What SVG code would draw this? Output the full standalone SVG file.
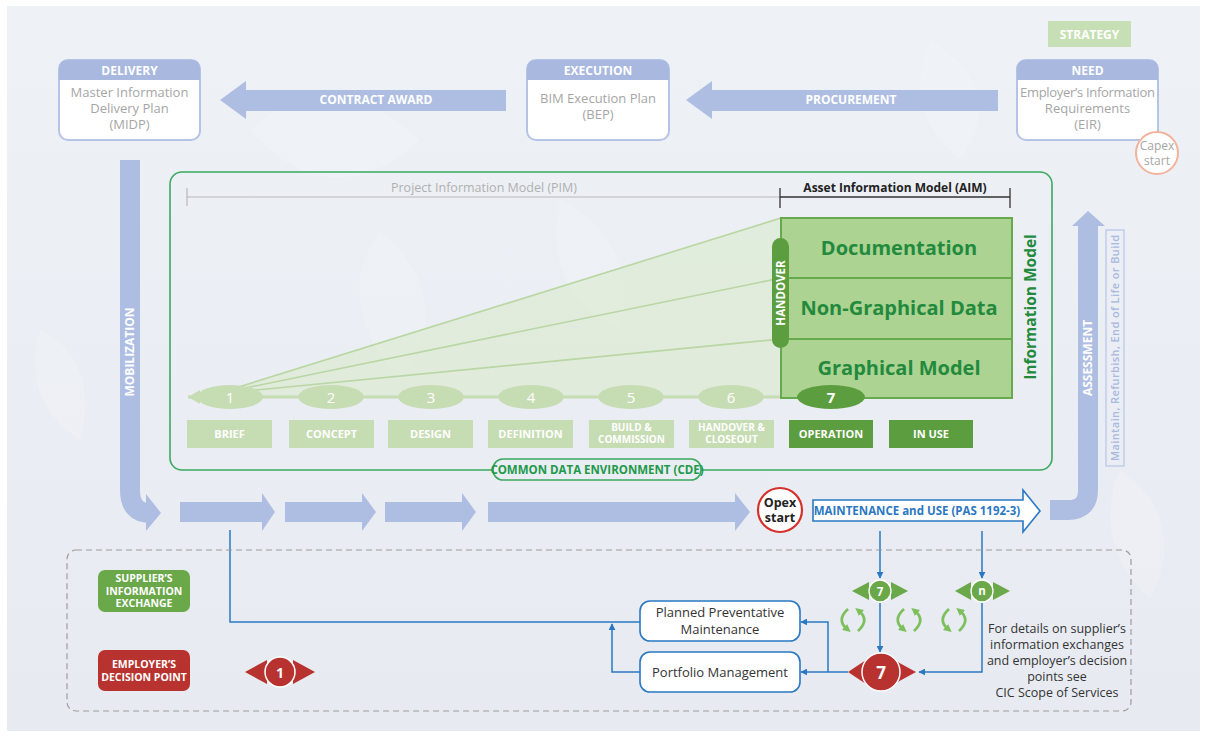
<svg xmlns="http://www.w3.org/2000/svg" width="1207" height="736" viewBox="0 0 1207 736">
  <defs>
    <linearGradient id="bg" x1="0" y1="0" x2="0" y2="1">
      <stop offset="0" stop-color="#eef1f6"/>
      <stop offset="1" stop-color="#e7ebf1"/>
    </linearGradient>
    <marker id="ah" viewBox="0 0 10 10" refX="9" refY="5" markerWidth="7" markerHeight="7" orient="auto" markerUnits="userSpaceOnUse">
      <path d="M0,0 L10,5 L0,10 Z" fill="#2a78c2"/>
    </marker>
    <marker id="cyc" viewBox="0 0 10 10" refX="4" refY="5" markerWidth="8" markerHeight="8" orient="auto" markerUnits="userSpaceOnUse">
      <path d="M0,0 L10,5 L0,10 Z" fill="#7dbf5c"/>
    </marker>
    <!-- pair of curved arrows used for the repeating maintenance cycle -->
    <g id="cycle">
      <path d="M-5,-11 Q-17,0 -6,9" fill="none" stroke="#7dbf5c" stroke-width="2.8" marker-end="url(#cyc)"/>
      <path d="M5,11 Q17,0 6,-9" fill="none" stroke="#7dbf5c" stroke-width="2.8" marker-end="url(#cyc)"/>
    </g>
    <style>
      text { font-family: "Open Sans", "Noto Sans", "Liberation Sans", sans-serif; }
      .hdr { fill: #a8b8df; }
      .box { fill: #ffffff; stroke: #b5c3e6; stroke-width: 2; }
      .hdrtx { fill: #ffffff; font-weight: 700; font-size: 12px; text-anchor: middle; }
      .bodytx { fill: #a6a6a6; font-size: 13px; text-anchor: middle; }
      .flow { fill: #aebde2; }
      .flowtx { fill: #ffffff; font-weight: 700; font-size: 12px; text-anchor: middle; }
      .stage { fill: #c6dcb3; }
      .stage-on { fill: #5c9e3f; }
      .stagetx { fill: #ffffff; font-weight: 700; font-size: 11px; text-anchor: middle; }
      .stagetx2 { fill: #ffffff; font-weight: 700; font-size: 10px; text-anchor: middle; }
      .num { fill: #ffffff; font-size: 15px; text-anchor: middle; }
      .aim { fill: #acd392; stroke: #67a94d; stroke-width: 2; }
      .aimtx { fill: #238a3d; font-weight: 700; font-size: 20px; text-anchor: middle; }
      .fan { stroke: #b9d6a3; stroke-width: 1.6; fill: none; }
      .conn { stroke: #2a78c2; stroke-width: 1.5; fill: none; }
      .pill { fill: #ffffff; stroke: #2a78c2; stroke-width: 1.6; }
      .pilltx { fill: #333333; font-size: 13px; text-anchor: middle; }
      .red { fill: #b8332f; }
      .green { fill: #6aa84a; }
      .keytx { fill: #ffffff; font-size: 10.5px; font-weight: 700; text-anchor: middle; }
      .note { fill: #333333; font-size: 12.5px; text-anchor: middle; }
    </style>
  </defs>

  <!-- page background -->
  <rect width="1207" height="736" fill="#ffffff"/>
  <rect x="7" y="6" width="1193" height="725" fill="url(#bg)"/>
  <g fill="#ffffff" opacity="0.14">
    <path d="M250,130 Q330,60 420,140 Q330,220 250,130 Z"/>
    <path d="M380,230 Q460,300 400,380 Q330,300 380,230 Z"/>
    <path d="M560,200 Q640,240 620,330 Q540,290 560,200 Z"/>
    <path d="M930,40 Q1010,90 960,160 Q900,110 930,40 Z"/>
    <path d="M40,330 Q100,360 80,440 Q20,400 40,330 Z"/>
    <path d="M1120,470 Q1190,520 1150,600 Q1090,540 1120,470 Z"/>
  </g>

  <!-- flow arrows (process route) -->
  <g id="connectors">
    <!-- top row -->
    <polygon class="flow" points="506,90 246,90 246,81 220,100 246,119 246,111 506,111"/>
    <text class="flowtx" x="376" y="104">CONTRACT AWARD</text>
    <polygon class="flow" points="998,90 712,90 712,81 686,100 712,119 712,111 998,111"/>
    <text class="flowtx" x="851" y="104">PROCUREMENT</text>

    <!-- mobilization -->
    <path d="M130,160 V490 Q130,513 150,513" fill="none" stroke="#aebde2" stroke-width="20"/>
    <polygon class="flow" points="146,494 161,513 146,531"/>
    <text class="flowtx" font-size="11" transform="translate(134,352) rotate(-90)" text-anchor="middle">MOBILIZATION</text>

    <!-- stage arrows -->
    <polygon class="flow" points="180,502 262,502 262,493 275,512 262,531 262,522 180,522"/>
    <polygon class="flow" points="285,502 362,502 362,493 376,512 362,531 362,522 285,522"/>
    <polygon class="flow" points="385,502 462,502 462,493 476,512 462,531 462,522 385,522"/>
    <polygon class="flow" points="488,502 735,502 735,493 750,512 735,531 735,522 488,522"/>

    <!-- maintenance and use -->
    <polygon points="813,500 1023,500 1023,490 1040,511 1023,532 1023,521 813,521" fill="#ffffff" stroke="#2a78c2" stroke-width="1.6"/>
    <text x="917" y="515" fill="#2a78c2" font-size="11.5" font-weight="700" text-anchor="middle">MAINTENANCE and USE (PAS 1192-3)</text>

    <!-- assessment -->
    <path d="M1050,510 H1068 Q1088,510 1088,490 V224" fill="none" stroke="#aebde2" stroke-width="20"/>
    <polygon class="flow" points="1072,226 1088,211 1105,226"/>
    <text class="flowtx" font-size="11" transform="translate(1092,358) rotate(-90)" text-anchor="middle">ASSESSMENT</text>

    <!-- blue connectors -->
    <path class="conn" d="M230,530 V622 H640"/>
    <path class="conn" d="M640,672 H612 V624" marker-end="url(#ah)"/>
    <path class="conn" d="M880,531 V578" marker-end="url(#ah)"/>
    <path class="conn" d="M982,531 V578" marker-end="url(#ah)"/>
    <path class="conn" d="M880,603 V652" marker-end="url(#ah)"/>
    <path class="conn" d="M982,603 V672 H919" marker-end="url(#ah)"/>
    <path class="conn" d="M848,672 H801" marker-end="url(#ah)"/>
    <path class="conn" d="M828,672 V622 H801" marker-end="url(#ah)"/>
  </g>

  <!-- top nodes -->
  <g id="delivery">
    <rect class="box" x="59" y="60" width="141" height="80" rx="9"/>
    <path class="hdr" d="M59,80 V69 Q59,60 68,60 H191 Q200,60 200,69 V80 Z"/>
    <text class="hdrtx" x="129.5" y="75">DELIVERY</text>
    <text class="bodytx" x="129.5" y="97">Master Information</text>
    <text class="bodytx" x="129.5" y="113">Delivery Plan</text>
    <text class="bodytx" x="129.5" y="129">(MIDP)</text>
  </g>
  <g id="execution">
    <rect class="box" x="527" y="60" width="142" height="80" rx="9"/>
    <path class="hdr" d="M527,80 V69 Q527,60 536,60 H660 Q669,60 669,69 V80 Z"/>
    <text class="hdrtx" x="598" y="75">EXECUTION</text>
    <text class="bodytx" x="598" y="103">BIM Execution Plan</text>
    <text class="bodytx" x="598" y="119">(BEP)</text>
  </g>
  <g id="strategy">
    <rect x="1048" y="21" width="83" height="26" fill="#c6dfb4"/>
    <text x="1089.5" y="38.5" fill="#ffffff" font-size="12" font-weight="700" text-anchor="middle">STRATEGY</text>
  </g>
  <g id="need">
    <rect class="box" x="1017" y="60" width="141" height="80" rx="9"/>
    <path class="hdr" d="M1017,80 V69 Q1017,60 1026,60 H1149 Q1158,60 1158,69 V80 Z"/>
    <text class="hdrtx" x="1087.5" y="75">NEED</text>
    <text class="bodytx" x="1087.5" y="97" font-size="12.5" textLength="135">Employer’s Information</text>
    <text class="bodytx" x="1087.5" y="113">Requirements</text>
    <text class="bodytx" x="1087.5" y="129">(EIR)</text>
  </g>
  <g id="capex">
    <circle cx="1157" cy="153" r="21" fill="#ffffff" stroke="#f2b29b" stroke-width="2"/>
    <text x="1157" y="150" fill="#a6a6a6" font-size="12" text-anchor="middle">Capex</text>
    <text x="1157" y="165" fill="#a6a6a6" font-size="12" text-anchor="middle">start</text>
  </g>

  <!-- common data environment -->
  <g id="cde">
    <rect x="170" y="172" width="882" height="298" rx="12" fill="none" stroke="#3aa85e" stroke-width="1.6"/>
    <rect x="493" y="459" width="208" height="21" rx="10" fill="#eaedf3" stroke="#3aa85e" stroke-width="1.6"/>
    <text x="597" y="474" fill="#1d9a4a" font-size="11.5" font-weight="700" text-anchor="middle">COMMON DATA ENVIRONMENT (CDE)</text>
  </g>

  <g id="pim">
    <line x1="187" y1="197" x2="780" y2="197" stroke="#b8b8b8" stroke-width="1.2"/>
    <line x1="187" y1="188" x2="187" y2="206" stroke="#b8b8b8" stroke-width="1.2"/>
    <text x="484" y="192" fill="#b0b0b0" font-size="12.5" text-anchor="middle">Project Information Model (PIM)</text>
  </g>

  <g id="aim">
    <line x1="780" y1="197" x2="1010" y2="197" stroke="#333333" stroke-width="1.3"/>
    <line x1="780" y1="188" x2="780" y2="208" stroke="#333333" stroke-width="1.3"/>
    <line x1="1010" y1="188" x2="1010" y2="208" stroke="#333333" stroke-width="1.3"/>
    <text x="895" y="192" fill="#222222" font-size="12" font-weight="700" text-anchor="middle">Asset Information Model (AIM)</text>
  </g>

  <!-- information growth fan -->
  <g id="fan">
    <polygon points="216,394 781,218 781,398 216,398" fill="#d7e9c8" opacity="0.55"/>
    <line class="fan" x1="216" y1="394" x2="781" y2="218"/>
    <line class="fan" x1="216" y1="394" x2="781" y2="278"/>
    <line class="fan" x1="216" y1="394" x2="781" y2="339"/>
    <line x1="188" y1="397" x2="781" y2="397" stroke="#c6dcb3" stroke-width="3"/>
  </g>

  <g id="information-model">
    <rect class="aim" x="781" y="218" width="231" height="180"/>
    <line x1="781" y1="278" x2="1012" y2="278" stroke="#67a94d" stroke-width="2"/>
    <line x1="781" y1="339" x2="1012" y2="339" stroke="#67a94d" stroke-width="2"/>
    <text class="aimtx" x="899" y="255">Documentation</text>
    <text class="aimtx" x="899" y="315">Non-Graphical Data</text>
    <text class="aimtx" x="899" y="375">Graphical Model</text>
    <rect x="772" y="238" width="17" height="110" rx="8.5" fill="#5c9e3f"/>
    <text x="0" y="0" fill="#ffffff" font-size="11.5" font-weight="700" text-anchor="middle" transform="translate(785,293) rotate(-90)">HANDOVER</text>
    <text x="0" y="0" fill="#238a3d" font-size="15.5" font-weight="700" text-anchor="middle" transform="translate(1036,307) rotate(-90)">Information Model</text>
  </g>

  <!-- stage markers -->
  <g id="stage-1">
    <path d="M188,397 L200,390 L200,404 Z" class="stage"/>
    <ellipse class="stage" cx="230" cy="397" rx="33" ry="12"/>
    <text class="num" x="230" y="402.5">1</text>
    <rect class="stage" x="187" y="420" width="85" height="28"/>
    <text class="stagetx" x="229.5" y="438">BRIEF</text>
  </g>
  <g id="stage-2">
    <ellipse class="stage" cx="331" cy="397" rx="33" ry="12"/>
    <text class="num" x="331" y="402.5">2</text>
    <rect class="stage" x="289" y="420" width="85" height="28"/>
    <text class="stagetx" x="331.5" y="438">CONCEPT</text>
  </g>
  <g id="stage-3">
    <ellipse class="stage" cx="431" cy="397" rx="33" ry="12"/>
    <text class="num" x="431" y="402.5">3</text>
    <rect class="stage" x="388" y="420" width="85" height="28"/>
    <text class="stagetx" x="430.5" y="438">DESIGN</text>
  </g>
  <g id="stage-4">
    <ellipse class="stage" cx="531" cy="397" rx="33" ry="12"/>
    <text class="num" x="531" y="402.5">4</text>
    <rect class="stage" x="488" y="420" width="85" height="28"/>
    <text class="stagetx" x="530.5" y="438">DEFINITION</text>
  </g>
  <g id="stage-5">
    <ellipse class="stage" cx="631" cy="397" rx="33" ry="12"/>
    <text class="num" x="631" y="402.5">5</text>
    <rect class="stage" x="589" y="420" width="85" height="28"/>
    <text class="stagetx2" x="631.5" y="431">BUILD &amp;</text>
    <text class="stagetx2" x="631.5" y="443">COMMISSION</text>
  </g>
  <g id="stage-6">
    <ellipse class="stage" cx="731" cy="397" rx="33" ry="12"/>
    <text class="num" x="731" y="402.5">6</text>
    <rect class="stage" x="689" y="420" width="85" height="28"/>
    <text class="stagetx2" x="731.5" y="431">HANDOVER &amp;</text>
    <text class="stagetx2" x="731.5" y="443">CLOSEOUT</text>
  </g>
  <g id="stage-7">
    <ellipse class="stage-on" cx="831" cy="397" rx="34" ry="12"/>
    <text class="num" x="831" y="402.5" font-weight="700">7</text>
    <rect class="stage-on" x="789" y="420" width="84" height="28"/>
    <text class="stagetx" x="831" y="438">OPERATION</text>
  </g>
  <g id="in-use">
    <rect class="stage-on" x="889" y="420" width="84" height="28"/>
    <text class="stagetx" x="931" y="438">IN USE</text>
  </g>

  <g id="lifecycle-note">
    <rect x="1106" y="230" width="18" height="236" fill="none" stroke="#c3cfec" stroke-width="1.6"/>
    <text x="0" y="0" fill="#a8b8df" font-size="11" font-weight="600" text-anchor="middle" textLength="226" transform="translate(1119,348) rotate(-90)">Maintain, Refurbish, End of Life or Build</text>
  </g>

  <g id="opex">
    <circle cx="780" cy="510" r="22" fill="#ffffff" stroke="#d6302b" stroke-width="2.2"/>
    <text x="780" y="507" fill="#222222" font-size="12.5" font-weight="700" text-anchor="middle">Opex</text>
    <text x="780" y="522" fill="#222222" font-size="12.5" font-weight="700" text-anchor="middle">start</text>
  </g>

  <!-- key and operational loop -->
  <g id="key-frame">
    <rect x="67" y="550" width="1064" height="161" rx="9" fill="none" stroke="#9c9c9c" stroke-width="1.2" stroke-dasharray="6 4"/>
  </g>
  <g id="supplier-key">
    <rect class="green" x="98" y="570" width="92" height="42" rx="7"/>
    <text class="keytx" x="144" y="582">SUPPLIER’S</text>
    <text class="keytx" x="144" y="594.5">INFORMATION</text>
    <text class="keytx" x="144" y="607">EXCHANGE</text>
  </g>
  <g id="employer-key">
    <rect class="red" x="98" y="650" width="92" height="41" rx="7"/>
    <text class="keytx" x="144" y="668">EMPLOYER’S</text>
    <text class="keytx" x="144" y="681">DECISION POINT</text>
  </g>
  <g id="decision-1">
    <polygon class="red" points="245,672 267,660 267,684"/>
    <polygon class="red" points="315,672 293,660 293,684"/>
    <circle class="red" cx="280" cy="672" r="15" stroke="#ffffff" stroke-width="1.5"/>
    <text x="280" y="677.5" fill="#ffffff" font-size="14" font-weight="700" text-anchor="middle">1</text>
  </g>

  <g id="planned-maintenance">
    <rect class="pill" x="640" y="601" width="160" height="40" rx="10"/>
    <text class="pilltx" x="720" y="617">Planned Preventative</text>
    <text class="pilltx" x="720" y="634">Maintenance</text>
  </g>
  <g id="portfolio-management">
    <rect class="pill" x="640" y="652" width="160" height="40" rx="10"/>
    <text class="pilltx" x="720" y="677">Portfolio Management</text>
  </g>

  <g id="exchange-7">
    <polygon class="green" points="852,591 869,582 869,600"/>
    <polygon class="green" points="908,591 891,582 891,600"/>
    <circle class="green" cx="880" cy="591" r="11" stroke="#ffffff" stroke-width="1.3"/>
    <text x="880" y="595.5" fill="#ffffff" font-size="11.5" font-weight="700" text-anchor="middle">7</text>
  </g>
  <g id="exchange-n">
    <polygon class="green" points="955,591 971,582 971,600"/>
    <polygon class="green" points="1010,591 993,582 993,600"/>
    <circle class="green" cx="982" cy="591" r="11" stroke="#ffffff" stroke-width="1.3"/>
    <text x="982" y="595" fill="#ffffff" font-size="11.5" font-weight="700" text-anchor="middle">n</text>
  </g>
  <g id="decision-7">
    <polygon class="red" points="848,672 866,660 866,684"/>
    <polygon class="red" points="916,672 894,660 894,684"/>
    <circle class="red" cx="881" cy="672" r="19" stroke="#ffffff" stroke-width="1.5"/>
    <text x="881" y="678.5" fill="#ffffff" font-size="17" font-weight="700" text-anchor="middle">7</text>
  </g>

  <g id="cycles">
    <use href="#cycle" x="853" y="620"/>
    <use href="#cycle" x="909" y="620"/>
    <use href="#cycle" x="954" y="620"/>
  </g>

  <g id="scope-note">
    <text class="note" x="1057" y="633">For details on supplier’s</text>
    <text class="note" x="1057" y="649">information exchanges</text>
    <text class="note" x="1057" y="665">and employer’s decision</text>
    <text class="note" x="1057" y="681">points see</text>
    <text class="note" x="1057" y="697">CIC Scope of Services</text>
  </g>
</svg>
